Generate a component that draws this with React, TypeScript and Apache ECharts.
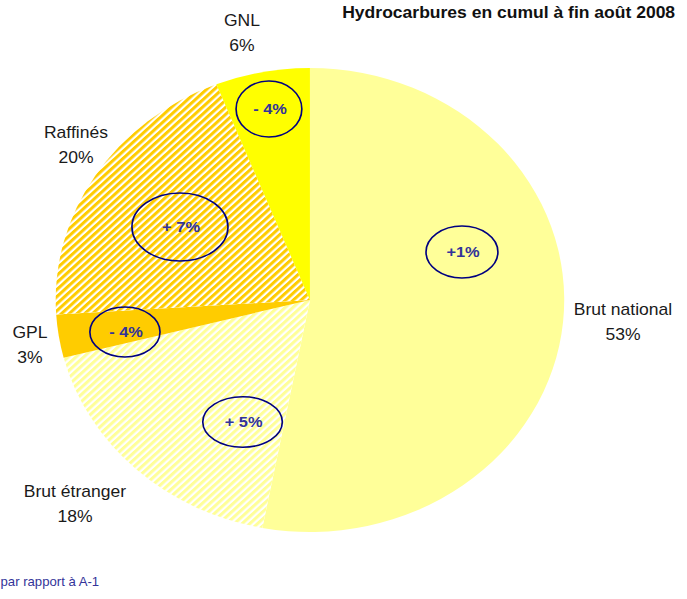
import React, { useEffect, useRef } from "react";
import * as echarts from "echarts";

const categories = ["Brut national", "Brut étranger", "GPL", "Raffinés", "GNL"];
const shares = [53, 18, 3, 20, 6];
const changes = ["+1%", "+ 5%", "- 4%", "+ 7%", "- 4%"];
const titleText = "Hydrocarbures en cumul à fin août 2008";
const footnoteText = "par rapport à A-1";

// layout (chart coordinates, before horizontal stretch)
const STRETCH = 1.096;
const labelPos = [
  [568.4, 322.5],
  [68.4, 504.5],
  [27.4, 345],
  [69.3, 145],
  [220.8, 33.5],
];
const bubblePos = [
  [421.5, 252, 32.8, 26],
  [221.3, 422, 36.3, 25.3],
  [114, 332, 32, 25],
  [164.2, 227, 43.8, 34],
  [245.4, 109, 30, 28],
];
const sliceStyles = [
  { color: "#FFFF99" },
  { color: "#FFFFFF", decal: "#FFFF99" },
  { color: "#FFCC00" },
  { color: "#FFFFFF", decal: "#FFCC00" },
  { color: "#FFFF00" },
];

export default function App() {
  const ref = useRef<HTMLDivElement>(null);
  useEffect(() => {
    if (!ref.current) return;
    const chart = echarts.init(ref.current, null, { renderer: "svg" });
    const font = "Liberation Sans, Arial, sans-serif";
    const graphics: any[] = [];
    graphics.push({
      type: "text",
      style: {
        text: titleText,
        x: 616,
        y: 13,
        textAlign: "right",
        textVerticalAlign: "middle",
        font: `bold 16px ${font}`,
        fill: "#111",
      },
    });
    graphics.push({
      type: "text",
      style: {
        text: footnoteText,
        x: 0.5,
        y: 582,
        textAlign: "left",
        textVerticalAlign: "middle",
        font: `12px ${font}`,
        fill: "#333399",
      },
    });
    categories.forEach((c, i) => {
      graphics.push({
        type: "text",
        style: {
          text: `${c}\n${shares[i]}%`,
          x: labelPos[i][0],
          y: labelPos[i][1],
          textAlign: "center",
          textVerticalAlign: "middle",
          font: `16px ${font}`,
          lineHeight: 25,
          fill: "#1a1a1a",
        },
      });
      const b = bubblePos[i];
      graphics.push({
        type: "ellipse",
        z: 10,
        shape: { cx: b[0], cy: b[1], rx: b[2], ry: b[3] },
        style: { fill: "none", stroke: "#000080", lineWidth: 1.5 },
      });
      graphics.push({
        type: "text",
        z: 11,
        style: {
          text: changes[i],
          x: b[0] + 1,
          y: b[1],
          textAlign: "center",
          textVerticalAlign: "middle",
          font: `bold 15px ${font}`,
          fill: "#333399",
        },
      });
    });

    chart.setOption({
      animation: false,
      graphic: graphics,
      series: [
        {
          type: "pie",
          center: [282.8, 300],
          radius: 232,
          startAngle: 90,
          clockwise: true,
          silent: true,
          avoidLabelOverlap: false,
          label: { show: false },
          labelLine: { show: false },
          data: categories.map((name, i) => ({
            name,
            value: shares[i],
            itemStyle: {
              color: sliceStyles[i].color,
              borderWidth: 0,
              decal: sliceStyles[i].decal
                ? {
                    symbol: "rect",
                    symbolSize: 1,
                    color: sliceStyles[i].decal,
                    dashArrayX: [1, 0],
                    dashArrayY: [3, 2],
                    rotation: -Math.PI / 4,
                  }
                : "none",
            },
          })),
        },
      ],
    });
    return () => chart.dispose();
  }, []);
  return (
    <div
      ref={ref}
      style={{
        position: "absolute",
        left: 0,
        top: 0,
        width: 627,
        height: 599,
        transform: `scaleX(${STRETCH})`,
        transformOrigin: "0 0",
      }}
    />
  );
}
